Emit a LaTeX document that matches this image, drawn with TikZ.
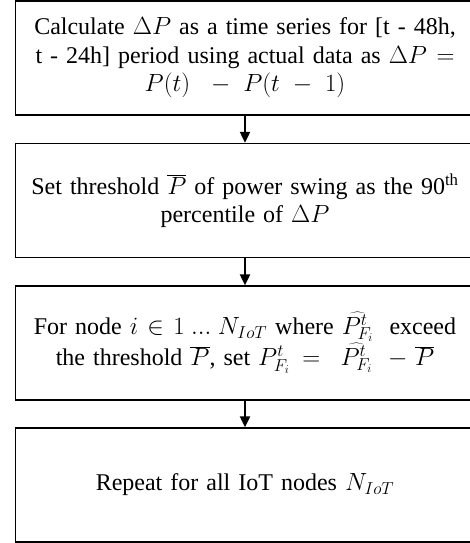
\documentclass[tikz,border=0pt]{standalone}
\usepackage{fontspec}
\setmainfont{Liberation Serif}
\usetikzlibrary{arrows.meta}
\begin{document}
\begin{tikzpicture}[x=1pt,y=-1pt]
\tikzset{
  box/.style={draw, line width=1.4pt, minimum width=459pt, minimum height=114pt,
    text width=455pt, align=center, inner sep=0pt,
    font=\fontsize{24}{28.5}\selectfont},
  conn/.style={-{Triangle[length=11pt,width=10pt]}, line width=2.2pt}
}
\useasboundingbox (0,0) rectangle (469,543);
\node[box] (b1) at (245,58) {Calculate $\Delta P$ as a time series for [t - 48h,\\
t - 24h] period using actual data as $\Delta P =$\\
$P(t)\ - P(t-1)$};
\node[box] (b2) at (245,200.5) {Set threshold $\overline{P}$ of power swing as the 90\textsuperscript{th}\\
percentile of $\Delta P$};
\node[box] (b3) at (245,343) {For node $i \in 1 \mathbin{...} N_{IoT}$ where $\widehat{P^t_{F_i}}$\ \ exceed\\
the threshold $\overline{P}$, set $P^t_{F_i} =\ \widehat{P^t_{F_i}}\ - \overline{P}$};
\node[box] (b4) at (245,485) {Repeat for all IoT nodes $N_{IoT}$};
\draw[conn] (b1.south) -- (b2.north);
\draw[conn] (b2.south) -- (b3.north);
\draw[conn] (b3.south) -- (b4.north);
\end{tikzpicture}
\end{document}
